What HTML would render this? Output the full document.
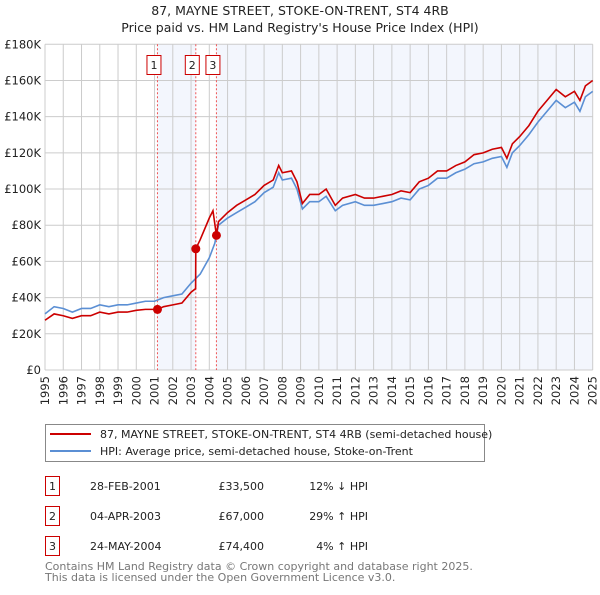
<!DOCTYPE html>
<html><head><meta charset="utf-8"><style>
body{margin:0;background:#fff;font-family:"Liberation Sans","DejaVu Sans",sans-serif;}
svg text{font-family:"DejaVu Sans","Liberation Sans",sans-serif;}
</style></head><body>
<svg id="chart" width="600" height="590" xmlns="http://www.w3.org/2000/svg">
<text x="300" y="15" text-anchor="middle" font-size="12.5" fill="#222">87, MAYNE STREET, STOKE-ON-TRENT, ST4 4RB</text>
<text x="300" y="32" text-anchor="middle" font-size="12.5" fill="#222">Price paid vs. HM Land Registry's House Price Index (HPI)</text>
<g id="bands"></g><g id="grid"></g><g id="vlines"></g><g id="series"></g><g id="axes"></g>
<g>
<rect x="45.5" y="424.5" width="439" height="37" fill="#fff" stroke="#888"/>
<line x1="50" y1="434" x2="91" y2="434" stroke="#cc0000" stroke-width="2"/>
<text x="100" y="438" font-size="11" fill="#222">87, MAYNE STREET, STOKE-ON-TRENT, ST4 4RB (semi-detached house)</text>
<line x1="50" y1="451" x2="91" y2="451" stroke="#5b8fd4" stroke-width="2"/>
<text x="100" y="455" font-size="11" fill="#222">HPI: Average price, semi-detached house, Stoke-on-Trent</text>
</g>
<g font-size="11" fill="#222">
<rect x="45.5" y="476.5" width="14" height="19" fill="#fff" stroke="#cc0000"/><text x="52.5" y="490" text-anchor="middle">1</text>
<text x="90" y="490">28-FEB-2001</text><text x="264" y="490" text-anchor="end">£33,500</text><text x="368" y="490" text-anchor="end">12% ↓ HPI</text>
<rect x="45.5" y="506.5" width="14" height="19" fill="#fff" stroke="#cc0000"/><text x="52.5" y="520" text-anchor="middle">2</text>
<text x="90" y="520">04-APR-2003</text><text x="264" y="520" text-anchor="end">£67,000</text><text x="368" y="520" text-anchor="end">29% ↑ HPI</text>
<rect x="45.5" y="536.5" width="14" height="19" fill="#fff" stroke="#cc0000"/><text x="52.5" y="550" text-anchor="middle">3</text>
<text x="90" y="550">24-MAY-2004</text><text x="264" y="550" text-anchor="end">£74,400</text><text x="368" y="550" text-anchor="end">4% ↑ HPI</text>
</g>
<text x="45" y="570" font-size="11" fill="#777">Contains HM Land Registry data © Crown copyright and database right 2025.</text>
<text x="45" y="581" font-size="11" fill="#777">This data is licensed under the Open Government Licence v3.0.</text>
</svg>
<script>
const hpiDates=[1995,1995.5,1996,1996.5,1997,1997.5,1998,1998.5,1999,1999.5,2000,2000.5,2001,2001.5,2002,2002.5,2003,2003.5,2004,2004.3,2004.5,2005,2005.5,2006,2006.5,2007,2007.5,2007.8,2008,2008.5,2008.8,2009.1,2009.5,2010,2010.4,2010.9,2011.3,2012,2012.5,2013,2013.5,2014,2014.5,2015,2015.5,2016,2016.5,2017,2017.5,2018,2018.5,2019,2019.5,2020,2020.3,2020.6,2021,2021.5,2022,2022.5,2023,2023.5,2024,2024.3,2024.6,2025];
const hpiValues=[31,35,34,32,34,34,36,35,36,36,37,38,38,40,41,42,48,53,62,70,80,84,87,90,93,98,101,109,105,106,100,89,93,93,96,88,91,93,91,91,92,93,95,94,100,102,106,106,109,111,114,115,117,118,112,120,124,130,137,143,149,145,148,143,151,154];
const priceDates=[1995,1995.5,1996,1996.5,1997,1997.5,1998,1998.5,1999,1999.5,2000,2000.5,2001,2001.16,2001.5,2002,2002.5,2003,2003.25,2003.26,2003.5,2004,2004.2,2004.39,2004.5,2005,2005.5,2006,2006.5,2007,2007.5,2007.8,2008,2008.5,2008.8,2009.1,2009.5,2010,2010.4,2010.9,2011.3,2012,2012.5,2013,2013.5,2014,2014.5,2015,2015.5,2016,2016.5,2017,2017.5,2018,2018.5,2019,2019.5,2020,2020.3,2020.6,2021,2021.5,2022,2022.5,2023,2023.5,2024,2024.3,2024.6,2025];
const priceValues=[27.5,31,30,28.5,30,30,32,31,32,32,33,33.5,33.5,33.5,35,36,37,43,45,67,72,84,88,74.4,82,87,91,94,97,102,105,113,109,110,104,92,97,97,100,91,95,97,95,95,96,97,99,98,104,106,110,110,113,115,119,120,122,123,117,125,129,135,143,149,155,151,154,149,157,160];
const saleDates=[2001.16,2003.26,2004.39];
const saleValues=[33.5,67,74.4];
const saleLabels=["1","2","3"];
const yTicks=[0,20,40,60,80,100,120,140,160,180];
const yTickLabels=["£0","£20K","£40K","£60K","£80K","£100K","£120K","£140K","£160K","£180K"];
const years=[1995,1996,1997,1998,1999,2000,2001,2002,2003,2004,2005,2006,2007,2008,2009,2010,2011,2012,2013,2014,2015,2016,2017,2018,2019,2020,2021,2022,2023,2024,2025];
const X0=45,X1=592.7,Y0=370,Y1=44.3;
const x=d=>X0+(d-1995)/30*(X1-X0);
const y=v=>Y0-v/180*(Y0-Y1);
const NS="http://www.w3.org/2000/svg";
function mk(tag,attrs,parent){const e=document.createElementNS(NS,tag);for(const k in attrs)e.setAttribute(k,attrs[k]);(typeof parent==='string'?document.getElementById(parent):parent).appendChild(e);return e;}
let b=mk('rect',{x:X0,y:Y1,width:X1-X0,height:Y0-Y1,fill:'#fff'},'bands');


b=mk('rect',{x:x(saleDates[0]),y:Y1,width:x(saleDates[1])-x(saleDates[0]),height:Y0-Y1,fill:'#f3f6fd'},'bands');


b=mk('rect',{x:x(saleDates[2]),y:Y1,width:X1-x(saleDates[2]),height:Y0-Y1,fill:'#f3f6fd'},'bands');


yTicks.forEach((t,i)=>{
 const l=mk('line',{x1:X0,x2:X1,y1:y(t),y2:y(t),stroke:'#cccccc','stroke-width':1},'grid');
 
 
 const tx=mk('text',{x:X0-4,y:y(t)+4,'text-anchor':'end','font-size':11.5,fill:'#222'},'axes');
 tx.textContent=yTickLabels[i];
 
 
});
years.forEach(yr=>{
 const l=mk('line',{x1:x(yr),x2:x(yr),y1:Y1,y2:Y0,stroke:'#cccccc','stroke-width':1},'grid');
 
 
 const g=mk('g',{transform:'translate('+(x(yr)+4)+','+(Y0+6)+') rotate(-90)'},'axes');
 const tx=mk('text',{x:0,y:0,'text-anchor':'end','font-size':11.5,fill:'#222'},g);
 tx.textContent=yr;
 
 
});
saleDates.forEach((d,i)=>{
 const l=mk('line',{x1:x(d),x2:x(d),y1:Y1,y2:Y0,stroke:'#ee5555','stroke-width':1,'stroke-dasharray':'2,2'},'vlines');
 
 
 const r=mk('rect',{x:x(d)-10.5,y:55.5,width:14,height:19,fill:'#fff',stroke:'#cc0000'},'vlines');
 
 
 const t=mk('text',{x:x(d)-3.5,y:69,'text-anchor':'middle','font-size':11,fill:'#222'},'vlines');
 t.textContent=saleLabels[i];
 
 
});
const hp=mk('polyline',{points:hpiDates.map((d,i)=>x(d)+','+y(hpiValues[i])).join(' '),fill:'none',stroke:'#5b8fd4','stroke-width':1.6},'series');


const pp=mk('polyline',{points:priceDates.map((d,i)=>x(d)+','+y(priceValues[i])).join(' '),fill:'none',stroke:'#cc0000','stroke-width':1.6},'series');


saleDates.forEach((d,i)=>{
 const c=mk('circle',{cx:x(d),cy:y(saleValues[i]),r:4.5,fill:'#cc0000'},'series');
 
 
});
</script>
</body></html>
